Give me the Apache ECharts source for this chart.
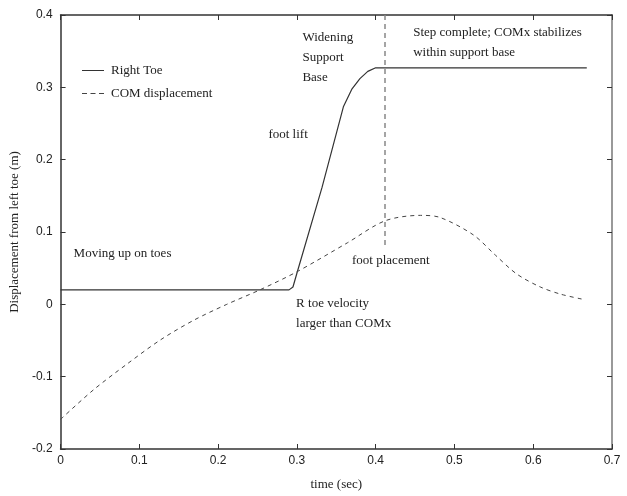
<!DOCTYPE html>
<html>
<head>
<meta charset="utf-8">
<script src="https://cdn.jsdelivr.net/npm/echarts@6/dist/echarts.min.js"></script>
<style>html,body{margin:0;padding:0;background:#fff}#c{width:627px;height:496px}</style>
</head>
<body>
<div id="c"></div>
<script>
// Right toe trajectory [time (s), displacement (m)]
var rightToe = [[0,0.02],[0.29,0.02],[0.295,0.024],[0.30,0.043],[0.332,0.162],[0.359,0.273],[0.37,0.298],[0.38,0.312],[0.39,0.322],[0.40,0.327],[0.668,0.327]];
// COM displacement [time (s), displacement (m)]
var comDisp = [[0,-0.159],[0.042,-0.118],[0.085,-0.082],[0.127,-0.049],[0.169,-0.022],[0.211,0.0],[0.253,0.02],[0.30,0.045],[0.364,0.085],[0.412,0.1155],[0.457,0.123],[0.482,0.120],[0.524,0.096],[0.552,0.068],[0.579,0.042],[0.609,0.024],[0.635,0.014],[0.663,0.007]];
// foot placement marker (time, from, to)
var footPlacement = [0.412, 0.4, 0.082];
var xTicks = [0,0.1,0.2,0.3,0.4,0.5,0.6,0.7];
var yTicks = [-0.2,-0.1,0,0.1,0.2,0.3,0.4];
// annotations: [text, time, displacement] (left-aligned, vertically centred)
var annotations = [
  ['Widening',0.307,0.369],
  ['Support',0.307,0.3415],
  ['Base',0.307,0.314],
  ['Step complete; COMx stabilizes',0.4476,0.376],
  ['within support base',0.4476,0.3485],
  ['foot lift',0.2638,0.234],
  ['Moving up on toes',0.0165,0.0695],
  ['foot placement',0.370,0.061],
  ['R toe velocity',0.299,0.0004],
  ['larger than COMx',0.299,-0.027]
];

var serif = '"Liberation Serif","DejaVu Serif",serif';
var sans = '"Liberation Sans",Arial,sans-serif';
var chart = echarts.init(document.getElementById('c'));
var fmt = function(v){ return v===0 ? '0' : (Math.round(v*10)/10).toFixed(1); };
chart.setOption({
  animation:false,
  backgroundColor:'#fff',
  grid:{left:60,right:15,top:15,bottom:47},
  legend:{
    show:true,orient:'vertical', left:77, top:59, itemWidth:22, itemHeight:1.2, itemGap:10,
    textStyle:{fontFamily:serif,fontSize:13,color:'#222',padding:[0,0,0,2]},
    data:[
      {name:'Right Toe',icon:'path://M0,0h22v1h-22z',itemStyle:{color:'#333'}},
      {name:'COM displacement',icon:'path://M0,0h5v1h-5zM8.5,0h5v1h-5zM17,0h5v1h-5z',itemStyle:{color:'#444'}}
    ]
  },
  xAxis:[{
    type:'value',min:0,max:0.7,interval:0.1,
    name:'time (sec)',nameLocation:'middle',nameGap:29,
    nameTextStyle:{fontFamily:serif,fontSize:13,color:'#222'},
    axisLine:{onZero:false,lineStyle:{color:'#333',width:1.5}},
    axisTick:{inside:true,length:5,lineStyle:{color:'#333'}},
    axisLabel:{margin:6,fontFamily:sans,fontSize:12,color:'#222',formatter:fmt},
    splitLine:{show:false}
  },{
    type:'value',min:0,max:0.7,interval:0.1,position:'top',
    axisLine:{onZero:false,lineStyle:{color:'#333',width:1.5}},
    axisTick:{inside:true,length:5,lineStyle:{color:'#333'}},
    axisLabel:{show:false},splitLine:{show:false}
  }],
  yAxis:[{
    type:'value',min:-0.2,max:0.4,interval:0.1,
    name:'Displacement from left toe (m)',nameLocation:'middle',nameGap:28,
    nameTextStyle:{fontFamily:serif,fontSize:13,color:'#222'},
    axisLine:{show:true,onZero:false,lineStyle:{color:'#333',width:1.5}},
    axisTick:{show:true,inside:true,length:5,lineStyle:{color:'#333'}},
    axisLabel:{margin:8,fontFamily:sans,fontSize:12,color:'#222',formatter:fmt},
    splitLine:{show:false}
  },{
    type:'value',min:-0.2,max:0.4,interval:0.1,position:'right',
    axisLine:{show:true,onZero:false,lineStyle:{color:'#999',width:2}},
    axisTick:{show:true,inside:true,length:5,lineStyle:{color:'#333'}},
    axisLabel:{show:false},splitLine:{show:false}
  }],
  series:[{
    name:'Right Toe',type:'line',data:rightToe,symbol:'none',
    lineStyle:{color:'#333',width:1.2},itemStyle:{color:'#333'},z:3
  },{
    name:'COM displacement',type:'line',data:comDisp,symbol:'none',smooth:0.3,
    lineStyle:{color:'#444',width:1,type:[4,4]},itemStyle:{color:'#444'},
    markLine:{
      silent:true,symbol:'none',label:{show:false},
      lineStyle:{color:'#888',width:1.5,type:[5,4]},
      data:[[{coord:[footPlacement[0],footPlacement[1]]},{coord:[footPlacement[0],footPlacement[2]]}]]
    }
  }]
});
var g = annotations.map(function(a){
  var p = chart.convertToPixel({xAxisIndex:0,yAxisIndex:0},[a[1],a[2]]);
  return {type:'text',x:p[0],y:p[1],style:{text:a[0],fontFamily:serif,fontSize:13,fill:'#222',textAlign:'left',textVerticalAlign:'middle'}};
});
chart.setOption({graphic:g});
</script>
</body>
</html>
